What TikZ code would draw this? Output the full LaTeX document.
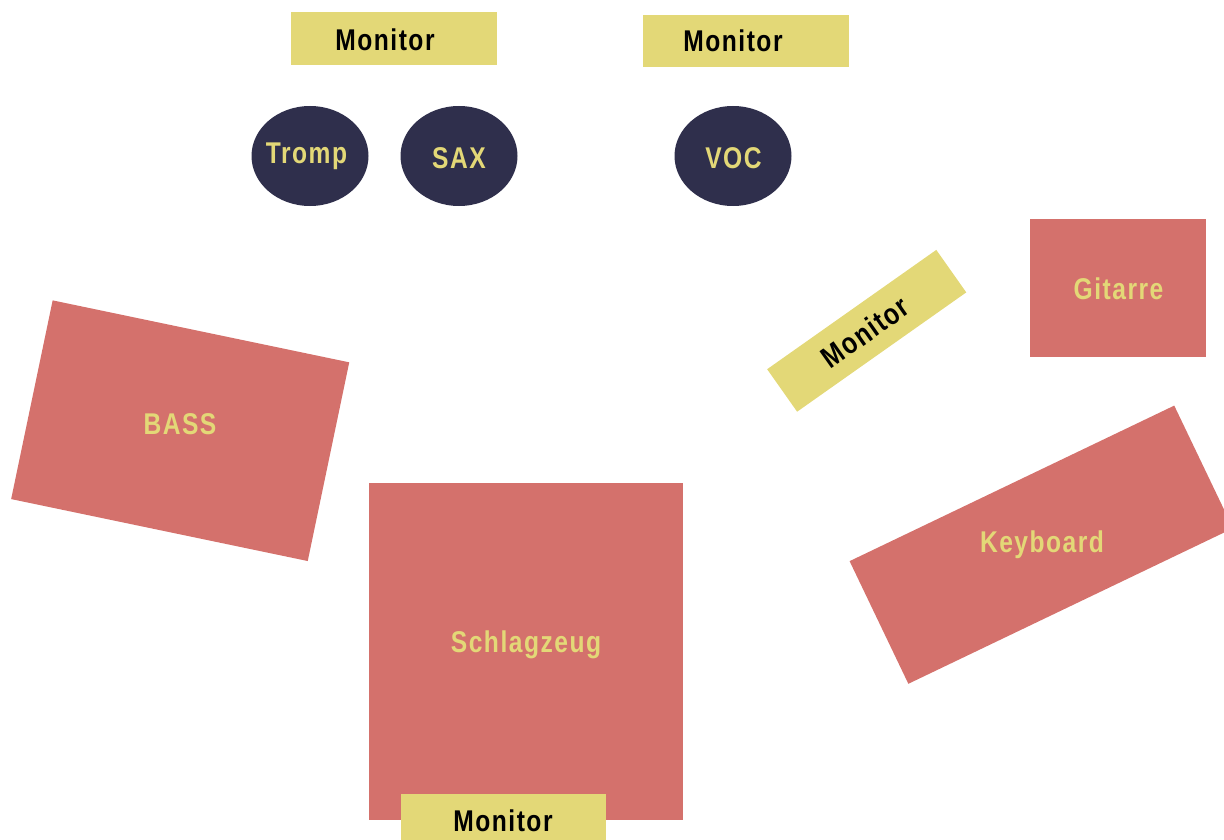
\documentclass[tikz,border=0pt]{standalone}
\usepackage{fontspec}
\usetikzlibrary{shapes.geometric}
\newfontfamily\stagefont[FakeStretch=0.82,LetterSpace=5]{Liberation Sans}
\definecolor{amp}{HTML}{D4716C}
\definecolor{mon}{HTML}{E3D877}
\definecolor{player}{HTML}{2F2F4C}
\begin{document}
\begin{tikzpicture}[x=1pt, y=-1pt,
    ampbox/.style={fill=amp, inner sep=0pt},
    monbox/.style={fill=mon, inner sep=0pt, minimum width=206pt, minimum height=53pt},
    person/.style={ellipse, fill=player, inner sep=0pt, minimum width=117pt, minimum height=100pt},
    lbl/.style={font=\stagefont\bfseries\fontsize{30}{32}\selectfont, inner sep=0pt},
    amplbl/.style={lbl, text=mon},
    monlbl/.style={lbl, text=black}]
    \clip (0, 0) rectangle (1224, 840);

    % monitors at the back
    \node[monbox] (monL) at (394, 38.5) {};
    \node[monlbl] (monLtxt) at (385, 40) {Monitor};
    \node[monbox, minimum height=52pt] (monR) at (746, 41) {};
    \node[monlbl] (monRtxt) at (733, 41) {Monitor};

    % front line
    \node[person] (tromp) at (310, 156) {};
    \node[amplbl] (trompTxt) at (306.5, 156) {Tromp};
    \node[person] (sax) at (459, 156) {};
    \node[amplbl] (saxTxt) at (459, 158.5) {SAX};
    \node[person] (voc) at (733, 156) {};
    \node[amplbl] (vocTxt) at (733.5, 158) {VOC};

    % side monitor
    \node[monbox, minimum width=207pt, minimum height=52pt, rotate=35.2] (monS) at (866.7, 330.8) {};
    \node[monlbl, rotate=35.2] (monStxt) at (865, 332) {Monitor};

    % amps and drums
    \node[ampbox, minimum width=176pt, minimum height=138pt] (gitarre) at (1118, 288) {};
    \node[amplbl] (gitarreTxt) at (1118.5, 289) {Gitarre};

    \node[ampbox, minimum width=303pt, minimum height=203pt, rotate=-11.8] (bass) at (180.2, 430.7) {};
    \node[amplbl] (bassTxt) at (180, 423.7) {BASS};

    \node[ampbox, minimum width=360pt, minimum height=136pt, rotate=25.6] (keys) at (1041.3, 544.7) {};
    \node[amplbl] (keysTxt) at (1042, 544.5) {Keyboard};

    \node[ampbox, minimum width=314pt, minimum height=337pt] (drums) at (526, 651.5) {};
    \node[amplbl] (drumsTxt) at (526, 645) {Schlagzeug};

    % drum monitor
    \node[monbox, minimum width=205pt] (monD) at (503.5, 820.5) {};
    \node[monlbl] (monDtxt) at (503, 821) {Monitor};
\end{tikzpicture}
\end{document}
